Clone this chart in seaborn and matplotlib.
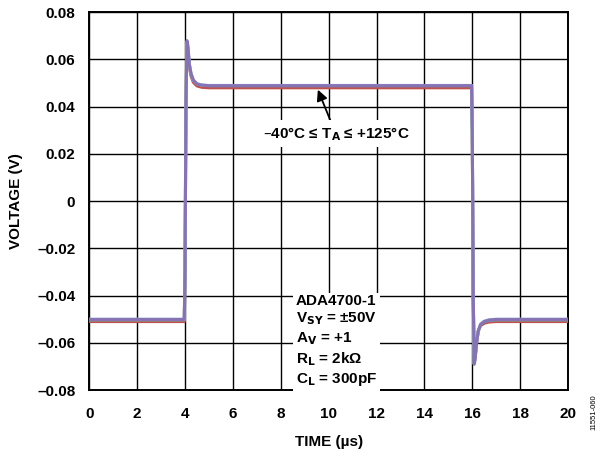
import numpy as np
import pandas as pd
import matplotlib
matplotlib.use("Agg")
import matplotlib.pyplot as plt
import seaborn as sns

# breakpoints of the step response (time in us)
time_us = [0, 3.97, 4.0, 4.04, 4.08, 4.12, 4.18, 4.25, 4.35, 4.5, 4.7, 5.0,
           15.97, 16.0, 16.04, 16.08, 16.12, 16.18, 16.25, 16.35, 16.5, 16.7, 17.0, 20]

# one trace per temperature, volts
v_red = [-0.0510, -0.0510, -0.030, 0.040, 0.066, 0.064, 0.057, 0.053, 0.0503, 0.0488, 0.0482, 0.0480,
         0.0480, 0.030, -0.040, -0.068, -0.066, -0.060, -0.055, -0.0527, -0.0517, -0.0512, -0.0510, -0.0510]
v_teal = [-0.0503, -0.0503, -0.030, 0.040, 0.067, 0.065, 0.058, 0.054, 0.0512, 0.0497, 0.0491, 0.0489,
          0.0489, 0.030, -0.040, -0.069, -0.066, -0.060, -0.055, -0.0522, -0.0510, -0.0505, -0.0503, -0.0503]
v_blue = [-0.0500, -0.0500, -0.030, 0.040, 0.067, 0.065, 0.058, 0.054, 0.0512, 0.0497, 0.0492, 0.0490,
          0.0490, 0.030, -0.040, -0.069, -0.066, -0.060, -0.055, -0.0520, -0.0508, -0.0502, -0.0500, -0.0500]
v_purple = [-0.0501, -0.0501, -0.030, 0.040, 0.068, 0.066, 0.058, 0.054, 0.0512, 0.0496, 0.0491, 0.0489,
            0.0489, 0.030, -0.040, -0.069, -0.067, -0.060, -0.055, -0.0522, -0.0510, -0.0504, -0.0501, -0.0501]

traces = {"red": v_red, "teal": v_teal, "blue": v_blue, "purple": v_purple}
palette = {"red": "#c0504d", "teal": "#5fb7a8", "blue": "#9fc3e0", "purple": "#8672b4"}

x_ticks = list(range(0, 21, 2))
y_ticks = [-0.08, -0.06, -0.04, -0.02, 0, 0.02, 0.04, 0.06, 0.08]
y_labels = ["\u20130.08", "\u20130.06", "\u20130.04", "\u20130.02", "0",
            "0.02", "0.04", "0.06", "0.08"]

df = pd.concat([pd.DataFrame({"t": time_us, "v": v, "trace": k}) for k, v in traces.items()],
               ignore_index=True)

sns.set_theme(style="white")
plt.rcParams["font.family"] = ["Liberation Sans", "DejaVu Sans"]
plt.rcParams["font.weight"] = "bold"
plt.rcParams["text.color"] = "black"
plt.rcParams["axes.labelcolor"] = "black"
plt.rcParams["xtick.color"] = "black"
plt.rcParams["ytick.color"] = "black"
fs = 11

fig, ax = plt.subplots(figsize=(6.03, 4.53), dpi=100)
fig.subplots_adjust(left=0.148, right=0.942, top=0.973, bottom=0.139)

sns.lineplot(data=df, x="t", y="v", hue="trace", palette=palette, linewidth=2.2,
             legend=False, ax=ax, sort=False, estimator=None, zorder=3)

ax.set_xlim(0, 20)
ax.set_ylim(-0.08, 0.08)
ax.set_xticks(x_ticks)
ax.set_yticks(y_ticks)
ax.set_yticklabels(y_labels)
ax.tick_params(length=0, labelsize=fs, colors="black")
ax.tick_params(axis="x", pad=12)
ax.tick_params(axis="y", pad=10)
for lab in ax.get_xticklabels() + ax.get_yticklabels():
    lab.set_fontweight("bold")
ax.grid(True, color="black", linewidth=1.0)
for s in ax.spines.values():
    s.set_color("black")
    s.set_linewidth(1.4)

ax.set_xlabel("TIME (\u00b5s)", fontsize=fs, fontweight="bold", labelpad=10, color="black")
ax.set_ylabel("VOLTAGE (V)", fontsize=fs, fontweight="bold", labelpad=10, color="black")

ax.annotate("\u201340\u00b0C \u2264 T$_\\mathbf{A}$ \u2264 +125\u00b0C", xy=(9.55, 0.0472),
            xytext=(10.3, 0.0285), ha="center", va="center", fontsize=fs, fontweight="bold",
            color="black",
            bbox=dict(boxstyle="square,pad=0.3", fc="white", ec="none"),
            arrowprops=dict(arrowstyle="-|>", color="black", lw=1.3, mutation_scale=16,
                            shrinkA=0, shrinkB=0), zorder=5)

box = ("ADA4700-1\n"
       "V$_\\mathbf{SY}$ = \u00b150V\n"
       "A$_\\mathbf{V}$ = +1\n"
       "R$_\\mathbf{L}$ = 2k\u03a9\n"
       "C$_\\mathbf{L}$ = 300pF")
ax.text(8.62, -0.0592, box, ha="left", va="center", fontsize=fs, fontweight="bold",
        color="black", linespacing=1.25,
        bbox=dict(boxstyle="square,pad=0.2", fc="white", ec="none"), zorder=5)

fig.text(0.985, 0.09, "11551-060", rotation=90, fontsize=5.5, ha="center", va="center",
         fontweight="normal", color="black")

fig.savefig("out.png", dpi=100)
